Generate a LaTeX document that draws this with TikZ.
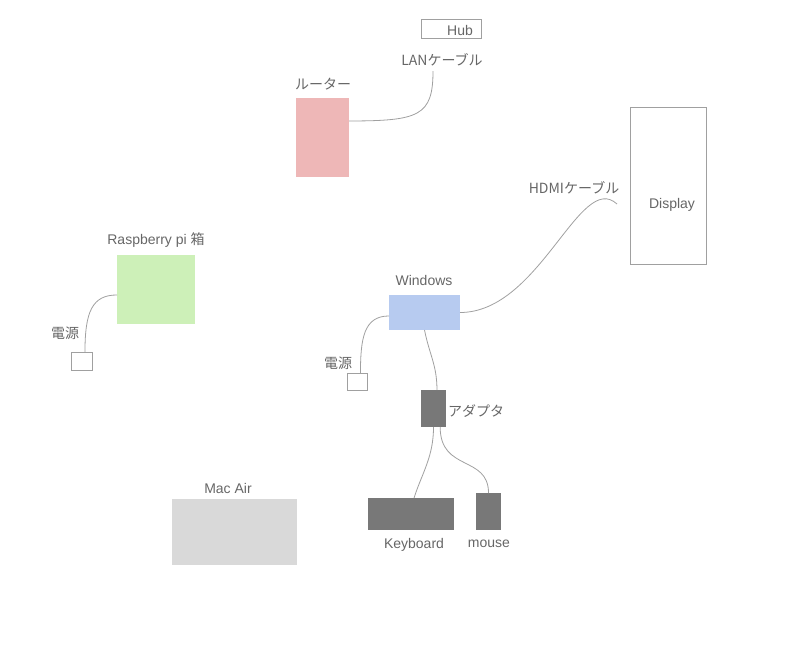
\documentclass[tikz,border=0pt]{standalone}
\usepackage{fontspec}
\setmainfont{Liberation Sans}
\newfontfamily\jp{Noto Sans CJK JP}
\usetikzlibrary{positioning}

\definecolor{linegray}{HTML}{A0A0A0}
\definecolor{textgray}{HTML}{666666}
\definecolor{routerpink}{HTML}{EEB7B7}
\definecolor{winblue}{HTML}{B7CBF0}
\definecolor{pigreen}{HTML}{CDF0B8}
\definecolor{macgray}{HTML}{D9D9D9}
\definecolor{darkbox}{HTML}{787878}

\begin{document}
\begin{tikzpicture}
    [x=0.75pt, y=-0.75pt, font=\fontsize{10.5}{12}\selectfont,
    % STYLES
    every node/.style={inner sep=0pt, outer sep=0pt},
    % The device style is used to draw the filled boxes
    device/.style={rectangle, draw=none},
    % The frame style is used for the boxes with an outline only
    frame/.style={rectangle, draw=linegray, line width=0.7pt, fill=white},
    % The tag style is used for the names of the devices
    tag/.style={text=textgray},
    % The cable style is used for the links
    cable/.style={draw=linegray, line width=0.6pt}]

    \useasboundingbox (0,0) rectangle (787,647);

    % Draw devices
    \node [frame, minimum width=45pt, minimum height=14.25pt] (hub) at (451,28.5) {};
    \node [device, fill=routerpink, minimum width=39.75pt, minimum height=59.25pt] (router) at (322.5,137.5) {};
    \node [frame, minimum width=57pt, minimum height=117.75pt] (display) at (668,185.5) {};
    \node [device, fill=winblue, minimum width=53.25pt, minimum height=26.25pt] (windows) at (424.5,312.5) {};
    \node [frame, minimum width=15pt, minimum height=12.75pt] (winpower) at (357,381.5) {};
    \node [device, fill=darkbox, minimum width=18.75pt, minimum height=27.75pt] (adapter) at (433.5,408.5) {};
    \node [device, fill=darkbox, minimum width=64.5pt, minimum height=24pt] (keyboard) at (411,514) {};
    \node [device, fill=darkbox, minimum width=18.75pt, minimum height=27.75pt] (mouse) at (488.5,511.5) {};
    \node [device, fill=pigreen, minimum width=58.5pt, minimum height=51.75pt] (raspi) at (156,289.5) {};
    \node [frame, minimum width=15.75pt, minimum height=13.5pt] (pipower) at (81.5,361) {};
    \node [device, fill=macgray, minimum width=93.75pt, minimum height=49.5pt] (mac) at (234.5,532) {};

    % Draw names
    \node [tag] (hubtag) at (460,30) {Hub};
    \node [tag] (lantag) at (442,60) {\jp LANケーブル};
    \node [tag] (routertag) at (323,84) {\jp ルーター};
    \node [tag] (displaytag) at (672,205) {Display};
    \node [tag] (hdmitag) at (574,188) {\jp HDMIケーブル};
    \node [tag] (windowstag) at (424,280) {Windows};
    \node [tag] (winpowertag) at (338,363) {\jp 電源};
    \node [tag] (adaptertag) at (476,411) {\jp アダプタ};
    \node [tag] (keyboardtag) at (414,545) {Keyboard};
    \node [tag] (mousetag) at (489,544) {mouse};
    \node [tag] (raspitag) at (156,240) {Raspberry pi {\jp 箱}};
    \node [tag] (pipowertag) at (65,333) {\jp 電源};
    \node [tag] (mactag) at (228,488) {Mac Air};

    \coordinate (lanend) at (433,71);
    \coordinate (hdmiend) at (617,204);

    % Draw the links between devices
    \path [cable] ([yshift=12.4pt]router.east) .. controls +(70,0) and +(0,45) .. (lanend);
    \path [cable] (windows.east) .. controls +(80,0) and +(-37,-34) .. (hdmiend);
    \path [cable] ([yshift=-2.6pt]windows.west) .. controls +(-25,0) and +(0,-35) .. ([xshift=2.6pt]winpower.north);
    \path [cable] ([yshift=-4.1pt]raspi.west) .. controls +(-25,0) and +(0,-40) .. ([xshift=2.6pt]pipower.north);
    \path [cable] (windows.south) .. controls +(5,25) and +(0,-25) .. ([xshift=2.6pt]adapter.north);
    \path [cable] (adapter.south) .. controls +(0,30) and +(8,-25) .. ([xshift=2.25pt]keyboard.north);
    \path [cable] ([xshift=5pt]adapter.south) .. controls +(0,45) and +(0,-38) .. (mouse.north);
\end{tikzpicture}
\end{document}
